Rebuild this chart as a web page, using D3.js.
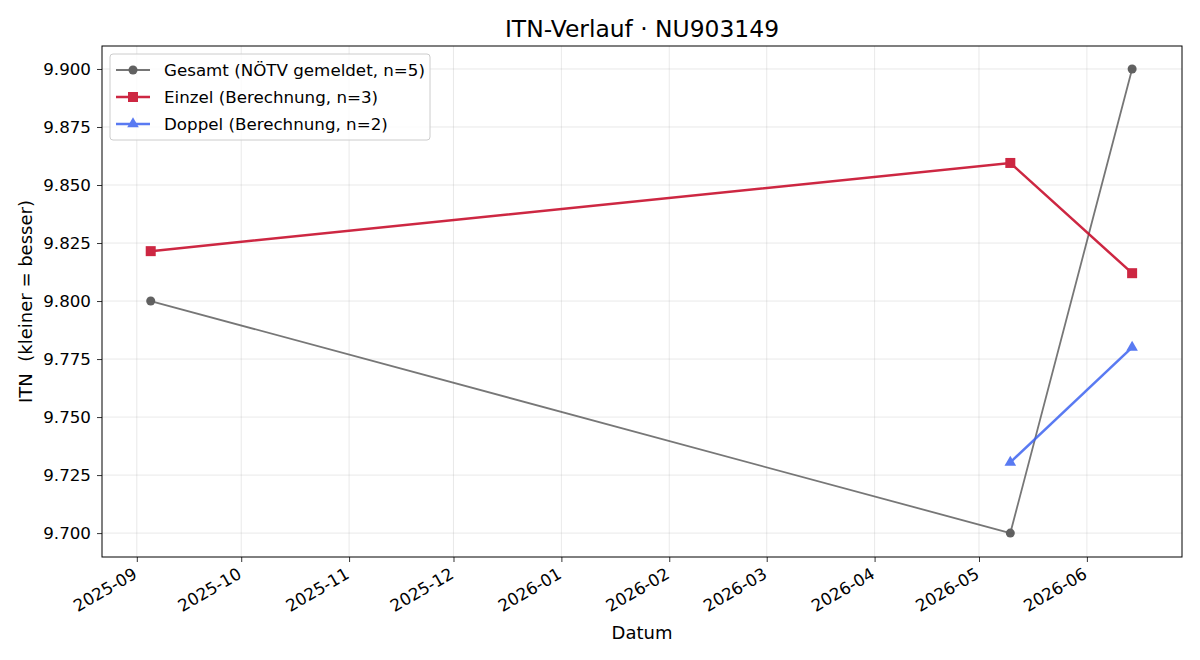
<!DOCTYPE html>
<html>
<head>
<meta charset="utf-8">
<script src="https://cdn.jsdelivr.net/npm/d3@7"></script>
<style>
  body { margin: 0; background: #fff; }
  svg text { font-family: "DejaVu Sans", sans-serif; fill: #000; white-space: pre; }
</style>
</head>
<body>
<div id="chart"></div>
<script>
// ITN-Verlauf data
const gesamtDates = ["2025-09-05", "2026-05-10", "2026-06-14"];
const gesamtValues = [9.800, 9.700, 9.900];
const einzelDates = ["2025-09-05", "2026-05-10", "2026-06-14"];
const einzelValues = [9.8215, 9.8595, 9.8120];
const doppelDates = ["2026-05-10", "2026-06-14"];
const doppelValues = [9.7305, 9.7800];
const yTicks = [9.700, 9.725, 9.750, 9.775, 9.800, 9.825, 9.850, 9.875, 9.900];
const xTickLabels = ["2025-09", "2025-10", "2025-11", "2025-12", "2026-01", "2026-02",
                     "2026-03", "2026-04", "2026-05", "2026-06"];
const seriesNames = ["Gesamt (NÖTV gemeldet, n=5)", "Einzel (Berechnung, n=3)", "Doppel (Berechnung, n=2)"];

const width = 1200, height = 660;
const margin = { left: 102, right: 18, top: 46, bottom: 103 };
const parse = d3.utcParse("%Y-%m-%d");
const parseMonth = d3.utcParse("%Y-%m");

const svg = d3.select("#chart").append("svg")
  .attr("width", width).attr("height", height);

const x = d3.scaleUtc()
  .domain([parse("2025-08-22"), new Date(Date.UTC(2026, 5, 28, 8))])
  .range([margin.left, width - margin.right]);
const y = d3.scaleLinear()
  .domain([9.6897, 9.9099])
  .range([height - margin.bottom, margin.top]);

const xTicks = xTickLabels.map(parseMonth);

// grid
svg.append("g").selectAll("line").data(xTicks).enter().append("line")
  .attr("x1", d => x(d)).attr("x2", d => x(d))
  .attr("y1", margin.top).attr("y2", height - margin.bottom)
  .attr("stroke", "#b0b0b0").attr("stroke-opacity", 0.35).attr("stroke-width", 0.8);
svg.append("g").selectAll("line").data(yTicks).enter().append("line")
  .attr("x1", margin.left).attr("x2", width - margin.right)
  .attr("y1", d => y(d)).attr("y2", d => y(d))
  .attr("stroke", "#b0b0b0").attr("stroke-opacity", 0.35).attr("stroke-width", 0.8);

// axes
const xAxis = svg.append("g")
  .attr("transform", `translate(0, ${height - margin.bottom})`)
  .call(d3.axisBottom(x).tickValues(xTicks).tickFormat(d3.utcFormat("%Y-%m")).tickSizeOuter(0).tickSize(5));
xAxis.selectAll("text")
  .attr("font-size", "16.7px")
  .attr("text-anchor", "end")
  .attr("y", 0).attr("dy", "0.71em")
  .attr("transform", "translate(-5, 10) rotate(-30)");

const yAxis = svg.append("g")
  .attr("transform", `translate(${margin.left}, 0)`)
  .call(d3.axisLeft(y).tickValues(yTicks).tickFormat(d3.format(".3f")).tickSizeOuter(0).tickSize(5));
yAxis.selectAll("text").attr("font-size", "16.7px").attr("x", -11);

[xAxis, yAxis].forEach(a => {
  a.select(".domain").remove();
  a.selectAll(".tick line").attr("stroke", "#000").attr("stroke-width", 0.8);
});

// frame
svg.append("rect")
  .attr("x", margin.left).attr("y", margin.top)
  .attr("width", width - margin.left - margin.right)
  .attr("height", height - margin.top - margin.bottom)
  .attr("fill", "none").attr("stroke", "#000").attr("stroke-width", 1);

// lines
const line = d3.line().x(d => x(d[0])).y(d => y(d[1]));
const zip = (ds, vs) => ds.map((d, i) => [parse(d), vs[i]]);

const gesamt = zip(gesamtDates, gesamtValues);
const einzel = zip(einzelDates, einzelValues);
const doppel = zip(doppelDates, doppelValues);

const styles = [
  { data: gesamt, color: "#555555", mcolor: "#3a3a3a", alpha: 0.8, lw: 1.8, marker: "circle", msize: 64 },
  { data: einzel, color: "#c8102e", mcolor: "#c8102e", alpha: 0.9, lw: 2.5, marker: "square", msize: 100 },
  { data: doppel, color: "#3d63f0", mcolor: "#3d63f0", alpha: 0.85, lw: 2.5, marker: "triangle", msize: 58 }
];
const symbolOf = { circle: d3.symbolCircle, square: d3.symbolSquare, triangle: d3.symbolTriangle };

styles.forEach(s => {
  const g = svg.append("g").attr("opacity", s.alpha);
  g.append("path").datum(s.data)
    .attr("d", line).attr("fill", "none")
    .attr("stroke", s.color).attr("stroke-width", s.lw);
  g.selectAll("path.m").data(s.data).enter().append("path")
    .attr("class", "m")
    .attr("d", d3.symbol().type(symbolOf[s.marker]).size(s.msize))
    .attr("transform", d => `translate(${x(d[0])},${y(d[1])})`)
    .attr("fill", s.mcolor);
});

// title & labels
svg.append("text").attr("x", (margin.left + width - margin.right) / 2).attr("y", 37)
  .attr("text-anchor", "middle").attr("font-size", "23.4px").text("ITN-Verlauf · NU903149");
svg.append("text").attr("x", (margin.left + width - margin.right) / 2).attr("y", 639)
  .attr("text-anchor", "middle").attr("font-size", "18px").text("Datum");
svg.append("text")
  .attr("transform", `translate(32, ${(margin.top + height - margin.bottom) / 2}) rotate(-90)`)
  .attr("text-anchor", "middle").attr("font-size", "18px").text("ITN  (kleiner = besser)");

// legend
const lg = svg.append("g").attr("transform", `translate(110, 54)`);
lg.append("rect").attr("width", 320).attr("height", 86).attr("rx", 3)
  .attr("fill", "#fff").attr("fill-opacity", 0.8)
  .attr("stroke", "#cccccc").attr("stroke-width", 1);
styles.forEach((s, i) => {
  const row = lg.append("g").attr("transform", `translate(0, ${16 + i * 27})`);
  const rg = row.append("g").attr("opacity", s.alpha);
  rg.append("line").attr("x1", 6).attr("x2", 40)
    .attr("stroke", s.color).attr("stroke-width", s.lw);
  rg.append("path").attr("transform", "translate(23,0)")
    .attr("d", d3.symbol().type(symbolOf[s.marker]).size(s.msize))
    .attr("fill", s.mcolor);
  row.append("text").attr("x", 54).attr("dy", "0.35em")
    .attr("font-size", "16.7px").text(seriesNames[i]);
});
</script>
</body>
</html>
